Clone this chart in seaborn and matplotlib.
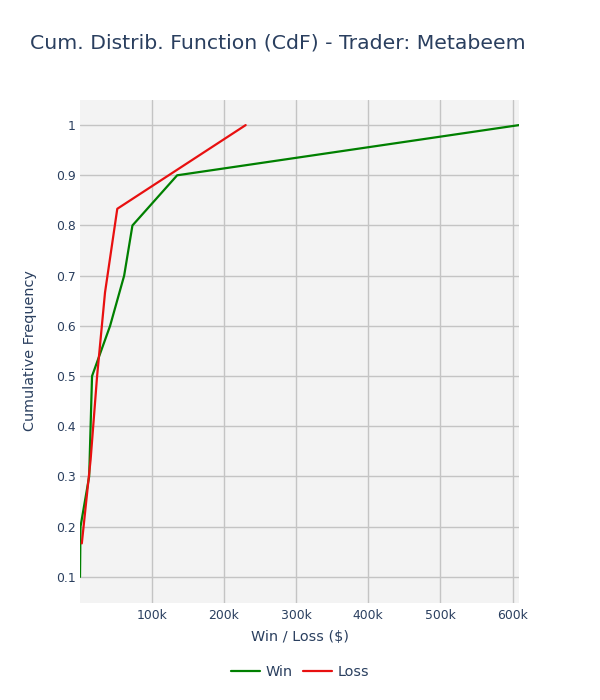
import pandas as pd
import matplotlib.pyplot as plt
import seaborn as sns
from matplotlib.ticker import FuncFormatter

# values
win_x = [300, 1000, 13000, 15000, 17000, 42000, 61500, 73000, 135000, 609000]
win_y = [0.1, 0.2, 0.3, 0.4, 0.5, 0.6, 0.7, 0.8, 0.9, 1.0]
loss_x = [2800, 15000, 24000, 35000, 52000, 230000]
loss_y = [0.1667, 0.3333, 0.5, 0.6667, 0.8333, 1.0]

df = pd.concat([
    pd.DataFrame({'pnl': win_x, 'cdf': win_y, 'kind': 'Win'}),
    pd.DataFrame({'pnl': loss_x, 'cdf': loss_y, 'kind': 'Loss'}),
], ignore_index=True)

sns.set_style('white')
plt.rcParams['font.family'] = ['DejaVu Sans']
txt = '#2a3f5f'

fig = plt.figure(figsize=(6, 7), dpi=100)
ax = fig.add_axes([80 / 600, 1 - 603 / 700, 439 / 600, 503 / 700])
ax.set_facecolor('#f3f3f3')

sns.lineplot(data=df, x='pnl', y='cdf', hue='kind', sort=False, estimator=None,
             palette={'Win': '#008000', 'Loss': '#e81010'}, linewidth=1.6, ax=ax)

ax.set_xlim(300, 609000)
ax.set_ylim(0.048, 1.05)
ax.set_xticks([100000, 200000, 300000, 400000, 500000, 600000])
ax.xaxis.set_major_formatter(FuncFormatter(lambda v, p: f'{int(v / 1000)}k'))
ax.set_yticks([0.1, 0.2, 0.3, 0.4, 0.5, 0.6, 0.7, 0.8, 0.9, 1.0])
ax.set_yticklabels(['0.1', '0.2', '0.3', '0.4', '0.5', '0.6', '0.7', '0.8', '0.9', '1'])
ax.grid(True, color='#c4c4c4', linewidth=1)
ax.set_axisbelow(True)
for s in ax.spines.values():
    s.set_visible(False)
ax.tick_params(length=0, labelsize=8.9, labelcolor=txt)
ax.tick_params(axis='x', pad=4)
ax.tick_params(axis='y', pad=3)

ax.set_xlabel('')
ax.set_ylabel('')
fig.text(300 / 600, 1 - 637 / 700, 'Win / Loss ($)', ha='center', va='center',
         fontsize=10.4, color=txt)
fig.text(30 / 600, 1 - 351 / 700, 'Cumulative Frequency', ha='center', va='center',
         rotation=90, fontsize=10.4, color=txt)
fig.text(30 / 600, 1 - 43 / 700, 'Cum. Distrib. Function (CdF) - Trader: Metabeem',
         ha='left', va='center', fontsize=14.7, color=txt)

handles, labels = ax.get_legend_handles_labels()
ax.legend(handles, labels, loc='center', bbox_to_anchor=(300 / 600, 1 - 672 / 700),
          bbox_transform=fig.transFigure, ncol=2, frameon=False, fontsize=10.4,
          handlelength=2.0, columnspacing=0.7, handletextpad=0.4, labelcolor=txt)

fig.savefig('out.png', dpi=100)
